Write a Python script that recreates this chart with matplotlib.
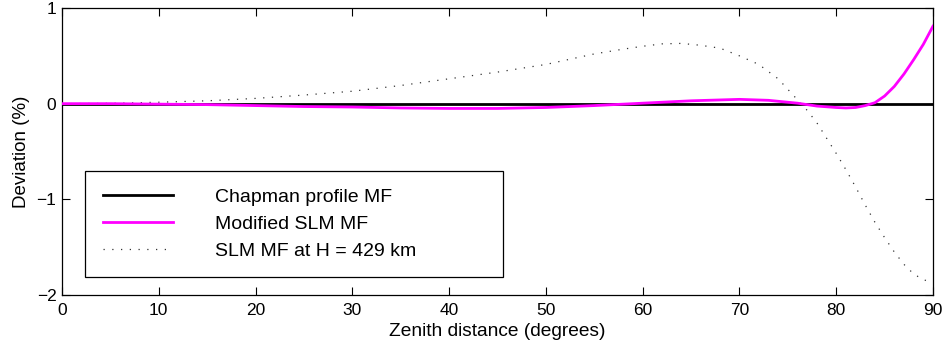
import matplotlib
matplotlib.use("Agg")
import matplotlib.pyplot as plt

plt.rcParams['font.family'] = ['Liberation Sans', 'DejaVu Sans']

# Zenith distance (degrees) and deviation (%) values
chap_x = [0, 90]
chap_y = [0, 0]

mod_x = [0, 5, 10, 15, 20, 25, 30, 35, 40, 45, 50, 55, 60, 65, 70, 73, 76, 78,
         80, 81, 82, 83, 84, 85, 86, 87, 88, 89, 90]
mod_y = [0, 0, -0.005, -0.01, -0.02, -0.03, -0.035, -0.045, -0.05, -0.05, -0.04,
         -0.02, 0.005, 0.03, 0.045, 0.035, 0.005, -0.025, -0.04, -0.045, -0.04,
         -0.02, 0.01, 0.08, 0.18, 0.31, 0.46, 0.62, 0.81]

slm_x = [0, 5, 10, 15, 20, 25, 30, 35, 40, 45, 50, 55, 58, 60, 62, 64, 66, 68,
         70, 72, 74, 75, 76, 77, 78, 79, 80, 81, 82, 83, 84, 85, 86, 87, 88, 89, 90]
slm_y = [0, 0.003, 0.015, 0.03, 0.055, 0.09, 0.13, 0.19, 0.26, 0.33, 0.41, 0.52,
         0.57, 0.6, 0.625, 0.63, 0.61, 0.58, 0.5, 0.41, 0.26, 0.15, 0.04, -0.07,
         -0.2, -0.36, -0.52, -0.69, -0.87, -1.06, -1.24, -1.40, -1.55, -1.68,
         -1.78, -1.84, -1.87]

labels = ['Chapman profile MF', 'Modified SLM MF', 'SLM MF at H = 429 km']
xticks = [0, 10, 20, 30, 40, 50, 60, 70, 80, 90]
yticks = [-2, -1, 0, 1]

fig = plt.figure(figsize=(9.46, 3.54), dpi=100)
ax = fig.add_axes([62/946, 59/354, 871/946, 287/354])

ax.plot(chap_x, chap_y, color='black', lw=2.0, label=labels[0], zorder=3)
ax.plot(mod_x, mod_y, color='#ff00ff', lw=2.0, label=labels[1], zorder=4)
ax.plot(slm_x, slm_y, color='#333333', lw=0.9, ls=(0, (1, 6)), label=labels[2], zorder=2)

ax.set_xlim(0, 90)
ax.set_ylim(-2, 1)
ax.set_xticks(xticks)
ax.set_yticks(yticks)
ax.tick_params(direction='in', length=6, width=0.8, top=True, right=True,
               labelsize=12.5, pad=4)
ax.tick_params(axis='x', pad=6)
for s in ax.spines.values():
    s.set_linewidth(0.9)

ax.set_xlabel('Zenith distance (degrees)', fontsize=13.8, labelpad=3)
ax.set_ylabel('Deviation (%)', fontsize=13.5, labelpad=5)

leg = ax.legend(loc='lower left', bbox_to_anchor=(23/871, 18/287, 418/871, 0.4),
                mode='expand', fontsize=14,
                handlelength=3.6, handletextpad=2.2, labelspacing=0.48,
                borderpad=0.9, borderaxespad=0, fancybox=False, framealpha=1,
                edgecolor='black')
leg.get_frame().set_linewidth(0.9)

fig.savefig('out.png', dpi=100)
